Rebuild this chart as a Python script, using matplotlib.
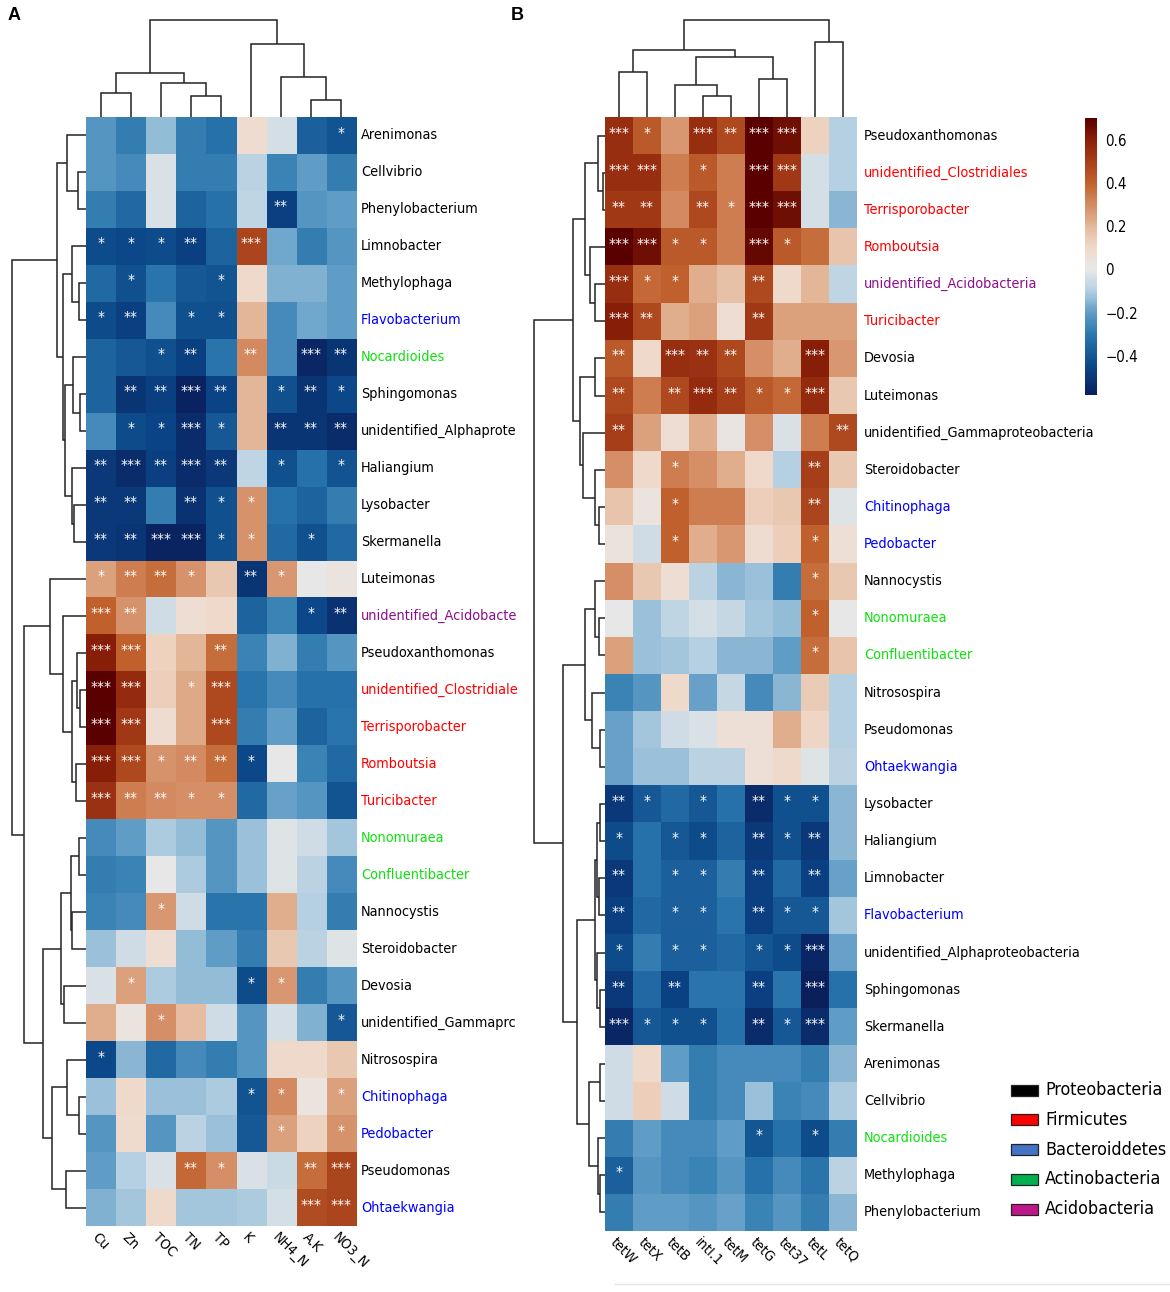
import numpy as np
import matplotlib
matplotlib.use("Agg")
import matplotlib.pyplot as plt
from matplotlib import font_manager
from matplotlib.colors import LinearSegmentedColormap, Normalize
from matplotlib.cm import ScalarMappable
from matplotlib.font_manager import FontProperties
from matplotlib.patches import Rectangle

plt.rcParams['font.family'] = ['Liberation Sans', 'DejaVu Sans']

# ---------------- data ----------------
a_cols = ['Cu', 'Zn', 'TOC', 'TN', 'TP', 'K', 'NH4_N', 'A.K', 'NO3_N']
a_rows = ['Arenimonas', 'Cellvibrio', 'Phenylobacterium', 'Limnobacter', 'Methylophaga',
          'Flavobacterium', 'Nocardioides', 'Sphingomonas', 'unidentified_Alphaprote',
          'Haliangium', 'Lysobacter', 'Skermanella', 'Luteimonas', 'unidentified_Acidobacte',
          'Pseudoxanthomonas', 'unidentified_Clostridiale', 'Terrisporobacter', 'Romboutsia',
          'Turicibacter', 'Nonomuraea', 'Confluentibacter', 'Nannocystis', 'Steroidobacter',
          'Devosia', 'unidentified_Gammaprc', 'Nitrosospira', 'Chitinophaga', 'Pedobacter',
          'Pseudomonas', 'Ohtaekwangia']
a_groups = ['k', 'k', 'k', 'k', 'k', 'b', 'g', 'k', 'k', 'k', 'k', 'k', 'k', 'p', 'k',
            'r', 'r', 'r', 'r', 'g', 'g', 'k', 'k', 'k', 'k', 'k', 'b', 'b', 'k', 'b']
a_vals = [
    [-0.22, -0.28, -0.14, -0.28, -0.32, 0.08, -0.04, -0.37, -0.41],
    [-0.22, -0.25, -0.03, -0.28, -0.28, -0.09, -0.27, -0.20, -0.28],
    [-0.28, -0.34, -0.03, -0.36, -0.32, -0.08, -0.47, -0.22, -0.20],
    [-0.43, -0.44, -0.43, -0.47, -0.36, 0.48, -0.18, -0.28, -0.22],
    [-0.34, -0.42, -0.31, -0.39, -0.41, 0.10, -0.16, -0.16, -0.20],
    [-0.43, -0.47, -0.25, -0.42, -0.42, 0.20, -0.25, -0.18, -0.20],
    [-0.36, -0.39, -0.42, -0.47, -0.31, 0.30, -0.25, -0.55, -0.50],
    [-0.36, -0.50, -0.47, -0.57, -0.45, 0.20, -0.42, -0.50, -0.44],
    [-0.25, -0.43, -0.45, -0.53, -0.39, 0.20, -0.50, -0.50, -0.53],
    [-0.49, -0.53, -0.47, -0.53, -0.49, -0.08, -0.42, -0.32, -0.41],
    [-0.49, -0.49, -0.28, -0.51, -0.42, 0.28, -0.32, -0.36, -0.28],
    [-0.49, -0.50, -0.56, -0.56, -0.42, 0.28, -0.34, -0.42, -0.34],
    [0.25, 0.33, 0.37, 0.28, 0.15, -0.50, 0.27, 0.00, 0.03],
    [0.40, 0.28, -0.05, 0.07, 0.10, -0.36, -0.27, -0.44, -0.51],
    [0.60, 0.40, 0.12, 0.20, 0.37, -0.27, -0.16, -0.28, -0.22],
    [0.70, 0.56, 0.13, 0.23, 0.47, -0.31, -0.25, -0.32, -0.32],
    [0.70, 0.52, 0.08, 0.23, 0.47, -0.28, -0.20, -0.36, -0.31],
    [0.60, 0.47, 0.28, 0.30, 0.37, -0.44, 0.00, -0.27, -0.34],
    [0.54, 0.33, 0.30, 0.29, 0.29, -0.34, -0.19, -0.22, -0.41],
    [-0.25, -0.20, -0.11, -0.14, -0.22, -0.13, -0.02, -0.05, -0.12],
    [-0.28, -0.27, 0.00, -0.11, -0.22, -0.13, -0.02, -0.09, -0.25],
    [-0.27, -0.25, 0.27, -0.05, -0.31, -0.31, 0.22, -0.10, -0.28],
    [-0.13, -0.05, 0.07, -0.14, -0.20, -0.28, 0.15, -0.09, -0.02],
    [-0.03, 0.25, -0.11, -0.14, -0.14, -0.43, 0.27, -0.28, -0.22],
    [0.22, 0.03, 0.29, 0.18, -0.05, -0.22, -0.04, -0.16, -0.39],
    [-0.44, -0.15, -0.34, -0.25, -0.28, -0.22, 0.10, 0.10, 0.15],
    [-0.13, 0.10, -0.13, -0.13, -0.11, -0.41, 0.30, 0.03, 0.25],
    [-0.22, 0.09, -0.22, -0.09, -0.13, -0.39, 0.25, 0.12, 0.28],
    [-0.20, -0.10, -0.03, 0.38, 0.29, -0.03, -0.06, 0.37, 0.48],
    [-0.16, -0.12, 0.10, -0.12, -0.12, -0.11, -0.04, 0.46, 0.48],
]
a_sig = [
    [0, 0, 0, 0, 0, 0, 0, 0, 1], [0, 0, 0, 0, 0, 0, 0, 0, 0], [0, 0, 0, 0, 0, 0, 2, 0, 0],
    [1, 1, 1, 2, 0, 3, 0, 0, 0], [0, 1, 0, 0, 1, 0, 0, 0, 0], [1, 2, 0, 1, 1, 0, 0, 0, 0],
    [0, 0, 1, 2, 0, 2, 0, 3, 2], [0, 2, 2, 3, 2, 0, 1, 2, 1], [0, 1, 1, 3, 1, 0, 2, 2, 2],
    [2, 3, 2, 3, 2, 0, 1, 0, 1], [2, 2, 0, 2, 1, 1, 0, 0, 0], [2, 2, 3, 3, 1, 1, 0, 1, 0],
    [1, 2, 2, 1, 0, 2, 1, 0, 0], [3, 2, 0, 0, 0, 0, 0, 1, 2], [3, 3, 0, 0, 2, 0, 0, 0, 0],
    [3, 3, 0, 1, 3, 0, 0, 0, 0], [3, 3, 0, 0, 3, 0, 0, 0, 0], [3, 3, 1, 2, 2, 1, 0, 0, 0],
    [3, 2, 2, 1, 1, 0, 0, 0, 0], [0, 0, 0, 0, 0, 0, 0, 0, 0], [0, 0, 0, 0, 0, 0, 0, 0, 0],
    [0, 0, 1, 0, 0, 0, 0, 0, 0], [0, 0, 0, 0, 0, 0, 0, 0, 0], [0, 1, 0, 0, 0, 1, 1, 0, 0],
    [0, 0, 1, 0, 0, 0, 0, 0, 1], [1, 0, 0, 0, 0, 0, 0, 0, 0], [0, 0, 0, 0, 0, 1, 1, 0, 1],
    [0, 0, 0, 0, 0, 0, 1, 0, 1], [0, 0, 0, 2, 1, 0, 0, 2, 3], [0, 0, 0, 0, 0, 0, 0, 3, 3],
]

b_cols = ['tetW', 'tetX', 'tetB', 'intI.1', 'tetM', 'tetG', 'tet37', 'tetL', 'tetQ']
b_rows = ['Pseudoxanthomonas', 'unidentified_Clostridiales', 'Terrisporobacter', 'Romboutsia',
          'unidentified_Acidobacteria', 'Turicibacter', 'Devosia', 'Luteimonas',
          'unidentified_Gammaproteobacteria', 'Steroidobacter', 'Chitinophaga', 'Pedobacter',
          'Nannocystis', 'Nonomuraea', 'Confluentibacter', 'Nitrosospira', 'Pseudomonas',
          'Ohtaekwangia', 'Lysobacter', 'Haliangium', 'Limnobacter', 'Flavobacterium',
          'unidentified_Alphaproteobacteria', 'Sphingomonas', 'Skermanella', 'Arenimonas',
          'Cellvibrio', 'Nocardioides', 'Methylophaga', 'Phenylobacterium']
b_groups = ['k', 'r', 'r', 'r', 'p', 'r', 'k', 'k', 'k', 'k', 'b', 'b', 'k', 'g', 'g',
            'k', 'k', 'b', 'k', 'k', 'k', 'b', 'k', 'k', 'k', 'k', 'k', 'g', 'k', 'k']
b_vals = [
    [0.55, 0.42, 0.27, 0.55, 0.47, 0.70, 0.65, 0.12, -0.10],
    [0.55, 0.55, 0.33, 0.42, 0.33, 0.70, 0.52, -0.04, -0.10],
    [0.52, 0.52, 0.30, 0.47, 0.33, 0.70, 0.65, -0.04, -0.15],
    [0.72, 0.65, 0.42, 0.42, 0.33, 0.67, 0.42, 0.37, 0.16],
    [0.55, 0.38, 0.40, 0.22, 0.17, 0.47, 0.10, 0.20, -0.08],
    [0.60, 0.47, 0.22, 0.25, 0.07, 0.52, 0.25, 0.25, 0.25],
    [0.42, 0.10, 0.55, 0.54, 0.47, 0.29, 0.22, 0.60, 0.27],
    [0.47, 0.33, 0.47, 0.56, 0.50, 0.42, 0.38, 0.56, 0.15],
    [0.50, 0.25, 0.07, 0.22, 0.02, 0.29, -0.03, 0.33, 0.47],
    [0.29, 0.10, 0.33, 0.29, 0.22, 0.10, -0.10, 0.50, 0.15],
    [0.16, 0.03, 0.40, 0.33, 0.33, 0.13, 0.15, 0.48, -0.02],
    [0.04, -0.05, 0.40, 0.22, 0.27, 0.08, 0.13, 0.40, 0.06],
    [0.29, 0.15, 0.07, -0.09, -0.15, -0.13, -0.28, 0.37, 0.15],
    [0.00, -0.13, -0.08, -0.04, -0.07, -0.12, -0.14, 0.40, 0.00],
    [0.25, -0.13, -0.12, -0.10, -0.15, -0.15, -0.20, 0.37, 0.16],
    [-0.27, -0.22, 0.10, -0.19, -0.07, -0.25, -0.15, 0.14, -0.10],
    [-0.19, -0.12, -0.05, -0.03, 0.06, 0.06, 0.22, 0.11, -0.10],
    [-0.19, -0.13, -0.13, -0.09, -0.09, 0.06, 0.10, -0.02, -0.09],
    [-0.49, -0.39, -0.34, -0.39, -0.32, -0.53, -0.42, -0.42, -0.15],
    [-0.43, -0.32, -0.39, -0.43, -0.36, -0.49, -0.42, -0.49, -0.15],
    [-0.49, -0.32, -0.37, -0.37, -0.28, -0.47, -0.34, -0.47, -0.19],
    [-0.47, -0.34, -0.37, -0.37, -0.31, -0.47, -0.39, -0.39, -0.12],
    [-0.43, -0.28, -0.37, -0.37, -0.34, -0.40, -0.43, -0.55, -0.19],
    [-0.49, -0.34, -0.46, -0.31, -0.31, -0.47, -0.31, -0.58, -0.32],
    [-0.55, -0.39, -0.42, -0.42, -0.32, -0.53, -0.39, -0.53, -0.20],
    [-0.05, 0.10, -0.20, -0.28, -0.25, -0.25, -0.25, -0.28, -0.15],
    [-0.05, 0.13, -0.05, -0.28, -0.25, -0.13, -0.27, -0.25, -0.11],
    [-0.28, -0.20, -0.25, -0.25, -0.20, -0.40, -0.32, -0.43, -0.28],
    [-0.37, -0.22, -0.25, -0.27, -0.22, -0.32, -0.25, -0.31, -0.09],
    [-0.28, -0.20, -0.20, -0.22, -0.19, -0.27, -0.22, -0.28, -0.15],
]
b_sig = [
    [3, 1, 0, 3, 2, 3, 3, 0, 0], [3, 3, 0, 1, 0, 3, 3, 0, 0], [2, 2, 0, 2, 1, 3, 3, 0, 0],
    [3, 3, 1, 1, 0, 3, 1, 0, 0], [3, 1, 1, 0, 0, 2, 0, 0, 0], [3, 2, 0, 0, 0, 2, 0, 0, 0],
    [2, 0, 3, 2, 2, 0, 0, 3, 0], [2, 0, 2, 3, 2, 1, 1, 3, 0], [2, 0, 0, 0, 0, 0, 0, 0, 2],
    [0, 0, 1, 0, 0, 0, 0, 2, 0], [0, 0, 1, 0, 0, 0, 0, 2, 0], [0, 0, 1, 0, 0, 0, 0, 1, 0],
    [0, 0, 0, 0, 0, 0, 0, 1, 0], [0, 0, 0, 0, 0, 0, 0, 1, 0], [0, 0, 0, 0, 0, 0, 0, 1, 0],
    [0, 0, 0, 0, 0, 0, 0, 0, 0], [0, 0, 0, 0, 0, 0, 0, 0, 0], [0, 0, 0, 0, 0, 0, 0, 0, 0],
    [2, 1, 0, 1, 0, 2, 1, 1, 0], [1, 0, 1, 1, 0, 2, 1, 2, 0], [2, 0, 1, 1, 0, 2, 0, 2, 0],
    [2, 0, 1, 1, 0, 2, 1, 1, 0], [1, 0, 1, 1, 0, 1, 1, 3, 0], [2, 0, 2, 0, 0, 2, 0, 3, 0],
    [3, 1, 1, 1, 0, 2, 1, 3, 0], [0, 0, 0, 0, 0, 0, 0, 0, 0], [0, 0, 0, 0, 0, 0, 0, 0, 0],
    [0, 0, 0, 0, 0, 1, 0, 1, 0], [1, 0, 0, 0, 0, 0, 0, 0, 0], [0, 0, 0, 0, 0, 0, 0, 0, 0],
]

# dendrograms as [left, right, merge height] (heights read in pixels)
a_row_tree = [
    [[0, [1, 2, 8.3], 19.3],
     [[3, [4, 5, 6.7], 14.3],
      [[6, [7, 8, 6.0], 12.7], [9, [10, 11, 12.0], 14.3], 21.0], 23.3], 29.3],
    [[12, [13, [[14, [15, 16, 6.0], 8.7], [17, 18, 10.0], 14.3], 22.7], 36.0],
     [[[[19, 20, 6.7], [21, 22, 14.3], 15.3], [23, 24, 21.7], 25.3],
      [[25, [26, 27, 6.7], 19.3], [28, 29, 20.0], 34.3], 43.3], 61.7],
    74.3]
a_col_tree = [[[0, 1, 24.3], [2, [3, 4, 21.0], 33.7], 43.7],
              [5, [6, [7, 8, 17.0], 39.7], 73.0], 97.0]
b_row_tree = [
    [[[0, [1, 2, 2.4], 7.4], [3, [4, 5, 10.0], 15.0], 20.0],
     [[6, 7, 10.0], [8, [9, [10, 11, 5.5], 10.0], 21.6], 25.4], 32.3],
    [[[12, [13, 14, 6.3], 10.0], [15, [16, 17, 4.7], 13.0], 20.0],
     [[[[18, 19, 5.0], [20, 21, 6.0], 8.0], [22, [23, 24, 5.0], 8.0], 10.0],
      [[25, 26, 4.6], [27, [28, 29, 5.0], 6.7], 16.0], 28.0], 41.8],
    70.6]
b_col_tree = [[[0, 1, 45.0], [[2, [3, 4, 20.7], 32.4], [5, 6, 37.7], 60.0], 66.7],
              [7, 8, 75.0], 96.7]

group_colors = {'k': 'black', 'r': '#ff0000', 'b': '#0000ff', 'g': '#10e010', 'p': '#8b108b'}
legend_names = ['Proteobacteria', 'Firmicutes', 'Bacteroiddetes', 'Actinobacteria', 'Acidobacteria']
legend_colors = ['#000000', '#ff0000', '#4472c4', '#00b050', '#c0168c']
cbar_ticks = [-0.4, -0.2, 0.0, 0.2, 0.4, 0.6]
cbar_labels = ['\u22120.4', '\u22120.2', '0', '0.2', '0.4', '0.6']

# ---------------- colours ----------------
vmin, vmax = -0.58, 0.70
stops = [(-0.58, '#0a1f5c'), (-0.45, '#0a4688'), (-0.30, '#2b78ae'), (-0.20, '#5e9cc6'),
         (-0.10, '#b4d0e2'), (0.0, '#e8e8e8'), (0.10, '#f0dacc'), (0.20, '#e4b89a'),
         (0.30, '#d48c62'), (0.40, '#c0622e'), (0.50, '#a8401a'), (0.60, '#8a2008'),
         (0.70, '#5a0000')]
cmap = LinearSegmentedColormap.from_list(
    'corr', [((v - vmin) / (vmax - vmin), c) for v, c in stops])
norm = Normalize(vmin=vmin, vmax=vmax)

# a narrow sans face if one is installed, otherwise Liberation Sans
label_font = FontProperties(family=['Liberation Sans', 'DejaVu Sans'])
for f in font_manager.fontManager.ttflist:
    n = f.name
    if ('Narrow' in n or 'Condensed' in n or f.stretch in ('condensed', 'semi-condensed')) \
            and 'Mono' not in n and 'Serif' not in n and f.style == 'normal' \
            and f.weight in (400, 'normal', 'regular'):
        label_font = FontProperties(fname=f.fname)
        break

W, H = 1170, 1292
fig = plt.figure(figsize=(W / 100, H / 100), dpi=100)
renderer = fig.canvas.get_renderer()


def fit_size(text, target_px, max_size):
    t = fig.text(0, 0, text, fontproperties=label_font, fontsize=max_size)
    w = t.get_window_extent(renderer).width
    t.remove()
    return min(max_size, max_size * target_px / w)


lab_size = fit_size('unidentified_Clostridiale', 156, 12)
leg_size = fit_size('Proteobacteria', 118, 16)


def px_axes(x0, y0, x1, y1):
    ax = fig.add_axes([x0 / W, 1 - y1 / H, (x1 - x0) / W, (y1 - y0) / H])
    ax.axis('off')
    return ax


def draw_tree(ax, node, orient):
    if isinstance(node, int):
        return node + 0.5, 0.0
    a, b, h = node
    pa, ha = draw_tree(ax, a, orient)
    pb, hb = draw_tree(ax, b, orient)
    if orient == 'top':
        ax.plot([pa, pa, pb, pb], [ha, h, h, hb], color='#222222', lw=1.1,
                solid_joinstyle='miter', solid_capstyle='butt')
    else:
        ax.plot([ha, h, h, hb], [pa, pa, pb, pb], color='#222222', lw=1.1,
                solid_joinstyle='miter', solid_capstyle='butt')
    return (pa + pb) / 2, h


def panel(x0, x1, y1, rtx, vals, sig, rows, groups, cols, row_tree, col_tree, lab_off):
    ax = px_axes(x0, 117, x1, y1)
    ax.imshow(np.array(vals), cmap=cmap, norm=norm, aspect='auto',
              extent=(0, len(cols), len(rows), 0), interpolation='nearest')
    ax.set_xlim(0, len(cols))
    ax.set_ylim(len(rows), 0)
    for i, r in enumerate(sig):
        for j, s in enumerate(r):
            if s:
                ax.text(j + 0.5, i + 0.42, '*' * s, color='white', fontsize=10,
                        ha='center', va='center', family='DejaVu Sans')
    for i, name in enumerate(rows):
        ax.text(len(cols) + lab_off, i + 0.5, name, color=group_colors[groups[i]],
                fontproperties=label_font, fontsize=lab_size, ha='left', va='center')
    for j, name in enumerate(cols):
        ax.text(j + 0.45, len(rows) + 0.12, name, rotation=-45, rotation_mode='anchor',
                fontproperties=label_font, fontsize=lab_size, ha='left', va='top')
    # row dendrogram
    rax = px_axes(rtx, 117, x0, y1)
    draw_tree(rax, row_tree, 'left')
    rax.set_xlim(x0 - rtx, 0)
    rax.set_ylim(len(rows), 0)
    # column dendrogram
    cax = px_axes(x0, 15, x1, 117)
    draw_tree(cax, col_tree, 'top')
    cax.set_xlim(0, len(cols))
    cax.set_ylim(0, 102)


panel(86, 356, 1226, 8, a_vals, a_sig, a_rows, a_groups, a_cols, a_row_tree, a_col_tree, 0.17)
panel(605, 857, 1231, 530, b_vals, b_sig, b_rows, b_groups, b_cols, b_row_tree, b_col_tree, 0.25)

fig.text(8 / W, 1 - 16 / H, 'A', fontsize=13, fontweight='bold', ha='left', va='center')
fig.text(511 / W, 1 - 16 / H, 'B', fontsize=13, fontweight='bold', ha='left', va='center')

# colour bar
cbx = fig.add_axes([1085 / W, 1 - 395 / H, 12 / W, 277 / H])
cb = fig.colorbar(ScalarMappable(norm=norm, cmap=cmap), cax=cbx, ticks=cbar_ticks)
cb.set_ticklabels(cbar_labels)
cb.outline.set_visible(False)
cbx.tick_params(length=0, pad=6)
for t in cbx.get_yticklabels():
    t.set_fontproperties(label_font)
    t.set_fontsize(lab_size + 0.5)

# phylum legend
for k, (name, col) in enumerate(zip(legend_names, legend_colors)):
    yc = 1090 + 29.8 * k
    fig.patches.append(Rectangle((1011 / W, 1 - (yc + 5.5) / H), 27 / W, 11 / H,
                                 transform=fig.transFigure, facecolor=col,
                                 edgecolor='#222222', lw=0.9))
    fig.text(1045 / W, 1 - yc / H, name, fontproperties=label_font, fontsize=leg_size,
             ha='left', va='center')

fig.add_artist(plt.Line2D([615 / W, 1], [1 - 1284 / H, 1 - 1284 / H],
                          color='#e4e4e4', lw=1, transform=fig.transFigure))

fig.savefig('out.png', dpi=100)
